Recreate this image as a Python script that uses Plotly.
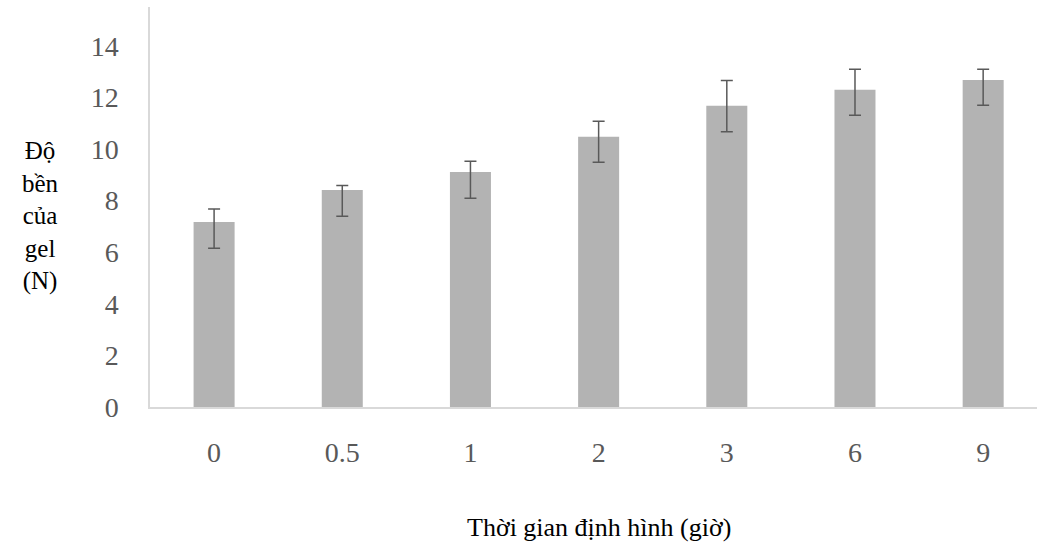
import plotly.graph_objects as go

categories = ["0", "0.5", "1", "2", "3", "6", "9"]
values = [7.17, 8.41, 9.11, 10.47, 11.67, 12.29, 12.67]
err_plus = [0.50, 0.17, 0.41, 0.60, 0.98, 0.80, 0.42]
err_minus = [1.02, 1.02, 1.02, 0.99, 1.00, 0.98, 0.98]
y_ticks = [0, 2, 4, 6, 8, 10, 12, 14]

x_title = "Thời gian định hình (giờ)"
y_title = "Độ<br>bền<br>của<br>gel<br>(N)"

W, H = 1037, 551
ml, mr, mt, mb = 150, 0, 7, 144

fig = go.Figure(go.Bar(
    x=categories, y=values, width=0.32,
    marker=dict(color="#b3b3b3", line=dict(width=0)),
    error_y=dict(type="data", symmetric=False, array=err_plus, arrayminus=err_minus,
                 color="#595959", thickness=1.5, width=6),
))

serif = "Liberation Serif"
fig.update_layout(
    width=W, height=H,
    margin=dict(l=ml, r=mr, t=mt, b=mb, pad=0),
    plot_bgcolor="white", paper_bgcolor="white",
    showlegend=False,
    font=dict(family=serif),
    xaxis=dict(
        type="category", range=[-0.5, 6.42],
        showgrid=False, zeroline=False,
        showline=True, linecolor="#d9d9d9", linewidth=1.5,
        ticks="", tickfont=dict(family=serif, size=28, color="#595959"),
        ticklabelstandoff=20,
    ),
    yaxis=dict(
        range=[0, 15.5], tickvals=y_ticks,
        showgrid=False, zeroline=False,
        showline=True, linecolor="#d9d9d9", linewidth=1.5,
        ticks="", tickfont=dict(family=serif, size=28, color="#595959"),
        ticklabelstandoff=24,
    ),
    annotations=[
        dict(text=x_title, xref="paper", yref="paper",
             x=(599 - ml) / (W - ml - mr), y=(407 - 527) / (H - mt - mb),
             xanchor="center", yanchor="middle", showarrow=False,
             font=dict(family=serif, size=26, color="black")),
        dict(text=y_title, xref="paper", yref="paper",
             x=(40 - ml) / (W - ml - mr), y=(407 - 216) / (H - mt - mb),
             xanchor="center", yanchor="middle", showarrow=False, align="center",
             font=dict(family=serif, size=25, color="black")),
    ],
)

fig.write_html("out.html", config={"displayModeBar": False},
               post_script="document.body.style.margin='0';")
